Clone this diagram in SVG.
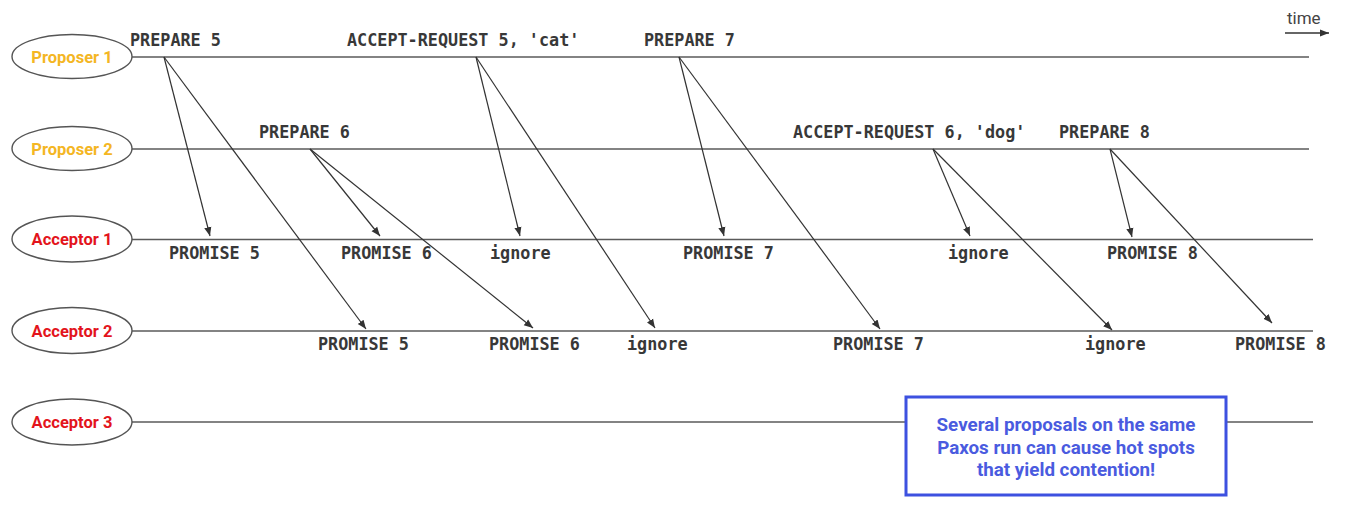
<svg xmlns="http://www.w3.org/2000/svg" width="1347" height="510" viewBox="0 0 1347 510">
<style>
.bg{fill:#ffffff}
.tl{stroke:#5a5a5a;stroke-width:1.6;fill:none}
.msg{stroke:#333333;stroke-width:1.2;fill:none;marker-end:url(#ah)}
.node{fill:#ffffff;stroke:#555555;stroke-width:1.4}
.pl{font-family:Roboto,"Liberation Sans",sans-serif;font-weight:bold;font-size:16.5px;fill:#f4b623;text-anchor:middle}
.al{font-family:Roboto,"Liberation Sans",sans-serif;font-weight:bold;font-size:16.5px;fill:#e3141c;text-anchor:middle}
.m{font-family:"DejaVu Sans Mono","Liberation Mono",monospace;font-weight:bold;font-size:16.8px;fill:#383838}
.note{fill:#ffffff;stroke:#3d51e0;stroke-width:3}
.nt{font-family:Roboto,"Liberation Sans",sans-serif;font-weight:bold;font-size:18.8px;fill:#4a5bdf;text-anchor:middle}
.time{font-family:Roboto,"Liberation Sans",sans-serif;font-size:17px;fill:#444444}
</style>
<defs>
<marker id="ah" viewBox="0 0 10 10" refX="10" refY="5" markerWidth="9" markerHeight="9" markerUnits="userSpaceOnUse" orient="auto">
<path d="M0,1 L10,5 L0,9 z" fill="#333333"/>
</marker>
</defs>
<rect class="bg" x="0" y="0" width="1347" height="510"/>

<g id="timelines">
<line class="tl" x1="132" y1="57" x2="1309" y2="57"/>
<line class="tl" x1="132" y1="149" x2="1309" y2="149"/>
<line class="tl" x1="132" y1="239.5" x2="1313" y2="239.5"/>
<line class="tl" x1="132" y1="331" x2="1313" y2="331"/>
<line class="tl" x1="132" y1="422" x2="1313" y2="422"/>
</g>

<g id="time">
<text class="time" x="1287" y="24">time</text>
<line x1="1285" y1="33" x2="1329" y2="33" stroke="#333333" stroke-width="1.4" marker-end="url(#ah)"/>
</g>

<g id="proposer1"><ellipse class="node" cx="72" cy="56.5" rx="60" ry="22"/><text class="pl" x="72" y="62.5">Proposer 1</text></g>
<g id="proposer2"><ellipse class="node" cx="72" cy="148.5" rx="60" ry="22"/><text class="pl" x="72" y="154.5">Proposer 2</text></g>
<g id="acceptor1"><ellipse class="node" cx="72" cy="239" rx="60" ry="23"/><text class="al" x="72" y="245">Acceptor 1</text></g>
<g id="acceptor2"><ellipse class="node" cx="72" cy="330.5" rx="60" ry="23"/><text class="al" x="72" y="336.5">Acceptor 2</text></g>
<g id="acceptor3"><ellipse class="node" cx="72" cy="422" rx="60" ry="23"/><text class="al" x="72" y="428">Acceptor 3</text></g>

<g id="connectors">
<line class="msg" x1="164" y1="57" x2="210" y2="236"/>
<line class="msg" x1="164" y1="57" x2="366" y2="329"/>
<line class="msg" x1="310" y1="149" x2="380" y2="236"/>
<line class="msg" x1="310" y1="149" x2="533" y2="328"/>
<line class="msg" x1="476" y1="57" x2="520" y2="236"/>
<line class="msg" x1="476" y1="57" x2="655" y2="328"/>
<line class="msg" x1="679" y1="57" x2="724" y2="236"/>
<line class="msg" x1="679" y1="57" x2="880" y2="329"/>
<line class="msg" x1="933" y1="149" x2="970" y2="236"/>
<line class="msg" x1="933" y1="149" x2="1112" y2="330"/>
<line class="msg" x1="1110" y1="149" x2="1132" y2="237"/>
<line class="msg" x1="1110" y1="149" x2="1272" y2="323"/>
</g>

<g id="labels">
<text class="m" x="130" y="46">PREPARE 5</text>
<text class="m" x="347" y="46">ACCEPT-REQUEST 5, 'cat'</text>
<text class="m" x="644" y="46">PREPARE 7</text>
<text class="m" x="259" y="138">PREPARE 6</text>
<text class="m" x="793" y="138">ACCEPT-REQUEST 6, 'dog'</text>
<text class="m" x="1059" y="138">PREPARE 8</text>
<text class="m" x="169" y="259">PROMISE 5</text>
<text class="m" x="341" y="259">PROMISE 6</text>
<text class="m" x="490" y="259">ignore</text>
<text class="m" x="683" y="259">PROMISE 7</text>
<text class="m" x="948" y="259">ignore</text>
<text class="m" x="1107" y="259">PROMISE 8</text>
<text class="m" x="318" y="350">PROMISE 5</text>
<text class="m" x="489" y="350">PROMISE 6</text>
<text class="m" x="627" y="350">ignore</text>
<text class="m" x="833" y="350">PROMISE 7</text>
<text class="m" x="1085" y="350">ignore</text>
<text class="m" x="1235" y="350">PROMISE 8</text>
</g>

<g id="note">
<rect class="note" x="906" y="397" width="320" height="98"/>
<text class="nt" x="1066" y="431">Several proposals on the same</text>
<text class="nt" x="1066" y="453.5">Paxos run can cause hot spots</text>
<text class="nt" x="1066" y="476">that yield contention!</text>
</g>
</svg>
